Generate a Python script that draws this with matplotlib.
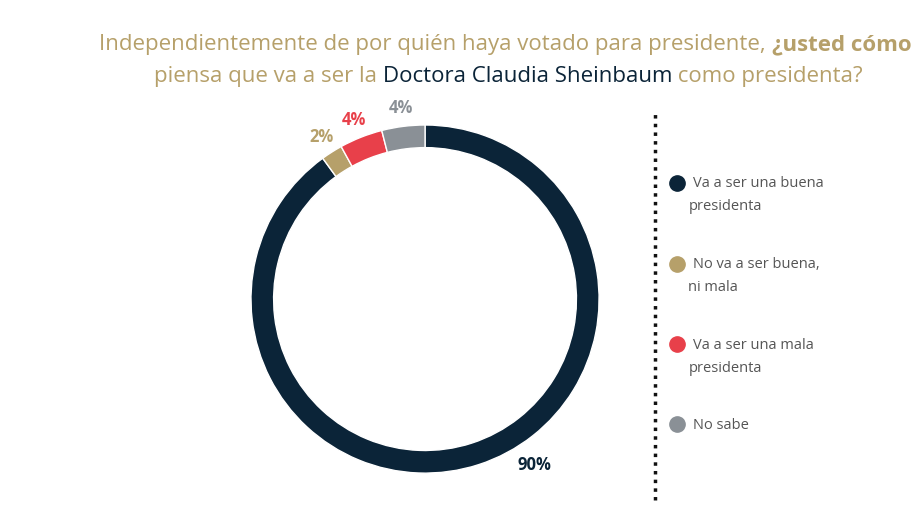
import matplotlib
matplotlib.use("Agg")
import matplotlib.pyplot as plt
from matplotlib.lines import Line2D
import numpy as np

labels = ["Va a ser una buena\npresidenta", "No va a ser buena,\nni mala", "Va a ser una mala\npresidenta", "No sabe"]
values = [90, 2, 4, 4]
pct_labels = ["90%", "2%", "4%", "4%"]
colors = ["#0b2438", "#b6a06a", "#e8404a", "#8a9096"]
tan = "#b6a06a"

plt.rcParams['font.family'] = ['Open Sans', 'DejaVu Sans']
fig = plt.figure(figsize=(9.18, 5.06), dpi=100)
fig.patch.set_facecolor("white")

fs = 16
fig.canvas.draw()
r = fig.canvas.get_renderer()
t0 = fig.text(0.108, 0.912, "Independientemente de por quién haya votado para presidente, ", color=tan, fontsize=fs, ha="left", va="center")
x = t0.get_window_extent(r).x1 / fig.bbox.width
fig.text(x, 0.912, "¿usted cómo", color=tan, fontsize=fs, ha="left", va="center", fontweight="bold")
t1 = fig.text(0.168, 0.848, "piensa que va a ser la ", color=tan, fontsize=fs, ha="left", va="center")
x = t1.get_window_extent(r).x1 / fig.bbox.width
t2 = fig.text(x, 0.848, "Doctora Claudia Sheinbaum", color="#0b2438", fontsize=fs, ha="left", va="center")
x = t2.get_window_extent(r).x1 / fig.bbox.width
fig.text(x, 0.848, " como presidenta?", color=tan, fontsize=fs, ha="left", va="center")

ax = fig.add_axes([0.226, -0.023, 0.474, 0.86])
wedges, _ = ax.pie(values, colors=colors, startangle=90, counterclock=False,
                   wedgeprops=dict(width=0.13, edgecolor="white", linewidth=1))
ax.set_xlim(-1.25, 1.25)
ax.set_ylim(-1.25, 1.25)
ax.set_aspect("equal")
ang = 90
for w, v, lab, c in zip(wedges, values, pct_labels, colors):
    mid = np.deg2rad(ang - v * 3.6 / 2)
    ang -= v * 3.6
    if v >= 50:
        xx, yy = 0.63, -0.95
    else:
        xx, yy = 1.11 * np.cos(mid), 1.11 * np.sin(mid)
    ax.text(xx, yy, lab, color=c, fontsize=12, fontweight="bold", ha="center", va="center")

fig.add_artist(Line2D([0.714, 0.714], [0.01, 0.775], color="#111111", lw=2.5, linestyle=(0, (1, 1.5))))

ys = [0.637, 0.477, 0.318, 0.16]
for y, lab, c in zip(ys, labels, colors):
    fig.add_artist(Line2D([0.738], [y], marker="o", markersize=11, color=c, linestyle="none"))
    lines = lab.split("\n")
    fig.text(0.755, y, lines[0], fontsize=10.5, color="#555555", ha="left", va="center")
    if len(lines) > 1:
        fig.text(0.75, y - 0.046, lines[1], fontsize=10.5, color="#555555", ha="left", va="center")

fig.savefig("out.png", dpi=100)
